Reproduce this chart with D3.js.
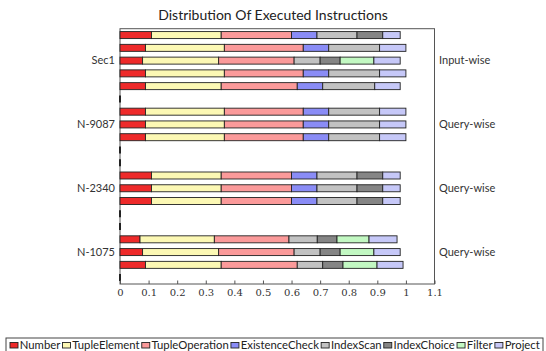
<!DOCTYPE html>
<html><head><meta charset="utf-8">
<script src="https://cdn.jsdelivr.net/npm/d3@7"></script>
<style>body{margin:0;background:#fff}svg{display:block}</style>
</head><body>
<script>
const categories = ["Number","TupleElement","TupleOperation","ExistenceCheck","IndexScan","IndexChoice","Filter","Project"];
const colors = ["#ee2a2a","#fcf8b4","#fb9a9a","#8a8cf6","#c2c2c2","#858585","#c2f8c2","#c6c8f8"];
// 14 bars, top to bottom
const Number_ = [0.110,0.089,0.079,0.089,0.089, 0.089,0.089,0.089, 0.110,0.110,0.110, 0.070,0.079,0.089];
const TupleElement = [0.244,0.276,0.266,0.276,0.265, 0.276,0.276,0.276, 0.244,0.244,0.244, 0.260,0.266,0.265];
const TupleOperation = [0.246,0.276,0.264,0.276,0.266, 0.276,0.276,0.276, 0.246,0.246,0.246, 0.261,0.264,0.266];
const ExistenceCheck = [0.089,0.089,0,0.089,0.089, 0.089,0.089,0.089, 0.089,0.089,0.089, 0,0,0];
const IndexScan = [0.140,0.178,0.091,0.178,0.182, 0.178,0.178,0.178, 0.140,0.140,0.140, 0.099,0.091,0.089];
const IndexChoice = [0.090,0,0.070,0,0, 0,0,0, 0.090,0.090,0.090, 0.069,0.070,0.071];
const Filter = [0,0,0.118,0,0, 0,0,0, 0,0,0, 0.112,0.118,0.119];
const Project = [0.061,0.092,0.092,0.092,0.089, 0.092,0.092,0.092, 0.061,0.061,0.061, 0.098,0.092,0.091];
const series = [Number_,TupleElement,TupleOperation,ExistenceCheck,IndexScan,IndexChoice,Filter,Project];
const barRows = [0,1,2,3,4, 6,7,8, 11,12,13, 16,17,18];
const emptyRows = [5,9,10,14,15,19];
const groups = ["Sec1","N-9087","N-2340","N-1075"];
const groupRows = [2,7,12,17];
const groupKinds = ["Input-wise","Query-wise","Query-wise","Query-wise"];
const tickValues = [0,0.1,0.2,0.3,0.4,0.5,0.6,0.7,0.8,0.9,1,1.1];
const tickLabels = ["0","0.1","0.2","0.3","0.4","0.5","0.6","0.7","0.8","0.9","1","1.1"];
const title = "Distribution Of Executed Instructions";

const W=546,H=351;
const svg = d3.select("body").append("svg").attr("width",W).attr("height",H);
const sans = "Lato, 'Open Sans', sans-serif";
const L=120, R=434.5, T=28.7, B=284;
const x = d3.scaleLinear().domain([0,1.1]).range([L,R]);
const y = d3.scaleLinear().domain([-0.5,19.5]).range([T,B]);
const bh = 7;

// title
svg.append("text").attr("x",273).attr("y",20).attr("text-anchor","middle")
  .attr("font-family",sans).attr("font-size",14).attr("fill","#222").text(title);

// frame
svg.append("rect").attr("x",L).attr("y",T).attr("width",R-L).attr("height",B-T)
  .attr("fill","none").attr("stroke","#555").attr("stroke-width",1);

// bars
const stacks = barRows.map((r,i)=>{
  let acc=0; const segs=[];
  series.forEach((s,k)=>{ const v=s[i]; if(v>0){ segs.push({x0:acc,x1:acc+v,k,r}); } acc+=v; });
  return segs;
}).flat();
svg.append("g").selectAll("rect").data(stacks).join("rect")
  .attr("x",d=>x(d.x0)).attr("width",d=>x(d.x1)-x(d.x0))
  .attr("y",d=>y(d.r)-bh/2).attr("height",bh)
  .attr("fill",d=>colors[d.k]).attr("stroke","#222").attr("stroke-width",0.9);
// empty rows (zero-length bars)
svg.append("g").selectAll("line").data(emptyRows).join("line")
  .attr("x1",x(0)).attr("x2",x(0)).attr("y1",d=>y(d)-bh/2).attr("y2",d=>y(d)+bh/2)
  .attr("stroke","#000").attr("stroke-width",1.6);

// x axis
const ax = svg.append("g").attr("transform",`translate(0,${B})`)
  .call(d3.axisBottom(x).tickValues(tickValues).tickSize(-3.5).tickPadding(5)
    .tickFormat((d,i)=>tickLabels[i]));
ax.select(".domain").remove();
ax.selectAll(".tick line").attr("stroke","#555");
ax.selectAll(".tick text").attr("font-family","'DejaVu Serif', serif").attr("font-size",10).attr("fill","#333");

// group labels
svg.append("g").selectAll("text").data(groups).join("text")
  .attr("x",115).attr("y",(d,i)=>y(groupRows[i])).attr("dy","0.35em").attr("text-anchor","end")
  .attr("font-family",sans).attr("font-size",11).attr("fill","#333").text(d=>d);
svg.append("g").selectAll("text").data(groupKinds).join("text")
  .attr("x",439).attr("y",(d,i)=>y(groupRows[i])).attr("dy","0.35em")
  .attr("font-family",sans).attr("font-size",11).attr("fill","#333").text(d=>d);

// legend
const lg = svg.append("g");
lg.append("rect").attr("x",6).attr("y",338).attr("width",537).attr("height",18)
  .attr("fill","#fff").attr("stroke","#444").attr("stroke-width",1);
let cx = 10;
categories.forEach((c,k)=>{
  lg.append("rect").attr("x",cx).attr("y",342.5).attr("width",8).attr("height",5.5)
    .attr("fill",colors[k]).attr("stroke","#222").attr("stroke-width",0.9);
  const t = lg.append("text").attr("x",cx+9.8).attr("y",349).attr("font-family",sans)
    .attr("font-size",11.3).attr("fill","#222").text(c);
  cx += 9.8 + t.node().getComputedTextLength() + 2.2;
});
</script>
</body></html>
